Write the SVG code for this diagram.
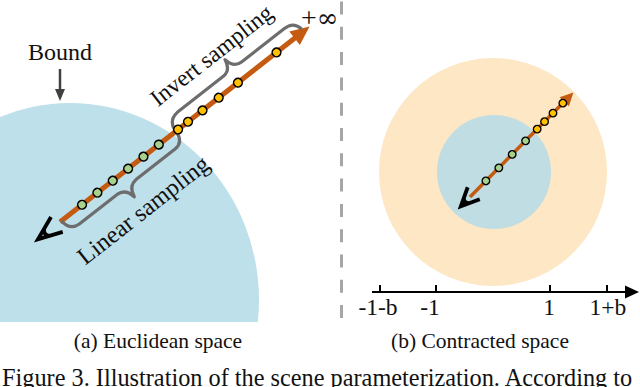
<svg xmlns="http://www.w3.org/2000/svg" width="640" height="387" viewBox="0 0 640 387">
<style>
.t{font-family:"Liberation Serif","Times New Roman",serif;fill:#111}
.ray{stroke:#c55a11;fill:none}
.head{fill:#c55a11}
.g{fill:#a9d18e;stroke:#000}
.y{fill:#ffc000;stroke:#000}
.brace{fill:none;stroke:#6d6d6d;stroke-width:3.2;stroke-linecap:round;stroke-linejoin:round}
.eye{fill:none;stroke:#000;stroke-width:3.8;stroke-linejoin:miter}
</style>
<defs>
<clipPath id="clipL"><rect x="0" y="0" width="338" height="322"/></clipPath>
</defs>
<rect width="640" height="387" fill="#fff"/>

<g id="euclidean-bound">
<ellipse cx="70" cy="300" rx="189" ry="197" fill="#bee0ea" clip-path="url(#clipL)"/>
</g>

<g id="bound-label">
<text class="t" x="60" y="60" font-size="24" text-anchor="middle">Bound</text>
<line x1="60" y1="69" x2="60" y2="90" stroke="#404040" stroke-width="2.5"/>
<polygon points="60,101 55,89 65,89" fill="#404040"/>
</g>

<g id="separator">
<line x1="341.5" y1="1.5" x2="341.5" y2="322" stroke="#a6a6a6" stroke-width="3" stroke-dasharray="13 12.3"/>
</g>

<g id="left-ray" transform="translate(60,222) rotate(-38.07)">
<g id="connectors-left">
<line class="ray" x1="0" y1="0" x2="300" y2="0" stroke-width="5"/>
<polygon class="head" points="317,0 298,-8.5 298,8.5"/>
<path class="brace" d="M2,1 Q3,13 14,13.5 L62,13.5 Q72,14 74,26 Q76,14 86,13.5 L136,13.5 Q146,13 147,2"/>
<path class="brace" d="M147,-1 Q148,-13 160,-14 L218,-14 Q228,-14 230,-26 Q232,-14 242,-14 L296,-14 Q307,-14 309,-4"/>
</g>
<g id="left-eye">
<path class="eye" d="M-4,-9.5 L-28,0 L-4,9.5 M-16.5,-4.6 Q-21.5,0 -16.5,4.6"/>
</g>
<g id="left-samples" stroke-width="1.6">
<circle class="g" cx="28" cy="0" r="4.3"/>
<circle class="g" cx="47.5" cy="0" r="4.3"/>
<circle class="g" cx="67" cy="0" r="4.3"/>
<circle class="g" cx="86.5" cy="0" r="4.3"/>
<circle class="g" cx="106" cy="0" r="4.3"/>
<circle class="g" cx="125.5" cy="0" r="4.3"/>
<circle class="y" cx="150" cy="0" r="4.3"/>
<circle class="y" cx="162.6" cy="0" r="4.3"/>
<circle class="y" cx="181" cy="0" r="4.3"/>
<circle class="y" cx="201.6" cy="0" r="4.3"/>
<circle class="y" cx="226" cy="0" r="4.3"/>
<circle class="y" cx="275" cy="0" r="4.3"/>
</g>
<text class="t" x="73" y="50" font-size="24.5" text-anchor="middle">Linear sampling</text>
<text class="t" x="222" y="-30" font-size="23.5" text-anchor="middle">Invert sampling</text>
</g>

<g id="infinity-label">
<text x="301" y="27"><tspan class="t" font-size="28">+</tspan><tspan font-family="'DejaVu Serif',serif" font-size="26" fill="#111">∞</tspan></text>
</g>

<g id="caption-a">
<text class="t" x="158" y="348" font-size="21.5" text-anchor="middle">(a) Euclidean space</text>
</g>

<g id="contracted-outer">
<circle cx="493" cy="172" r="114" fill="#fde7c5"/>
</g>
<g id="contracted-inner">
<circle cx="494" cy="172" r="57" fill="#bfdde2"/>
</g>

<g id="right-ray" transform="translate(470,197) rotate(-45.3)">
<g id="connectors-right">
<line class="ray" x1="0" y1="0" x2="136" y2="0" stroke-width="3.5"/>
<polygon class="head" points="147,0 134,-6.5 134,6.5"/>
</g>
<g id="right-eye">
<path class="eye" d="M5.3,-8.5 L-13,0 L5.3,8.5 M-4.8,-3.9 Q-8.8,0 -4.8,3.9"/>
</g>
<g id="right-samples" stroke-width="1.5">
<circle class="g" cx="22.6" cy="0" r="3.7"/>
<circle class="g" cx="41" cy="0" r="3.7"/>
<circle class="g" cx="60" cy="0" r="3.7"/>
<circle class="g" cx="79" cy="0" r="3.7"/>
<circle class="y" cx="95.5" cy="0" r="3.7"/>
<circle class="y" cx="106" cy="0" r="3.7"/>
<circle class="y" cx="118" cy="0" r="3.7"/>
<circle class="y" cx="132" cy="0" r="3.7"/>
</g>
</g>

<g id="axis">
<line x1="372" y1="292" x2="628" y2="292" stroke="#000" stroke-width="2"/>
<polygon points="639,292 625,285.5 625,298.5" fill="#000"/>
<g stroke="#000" stroke-width="2">
<line x1="380" y1="285" x2="380" y2="292"/>
<line x1="436" y1="285" x2="436" y2="292"/>
<line x1="550" y1="285" x2="550" y2="292"/>
<line x1="607" y1="285" x2="607" y2="292"/>
</g>
<text class="t" x="378" y="315" font-size="23.5" text-anchor="middle">-1-b</text>
<text class="t" x="430" y="315" font-size="23.5" text-anchor="middle">-1</text>
<text class="t" x="549" y="315" font-size="23.5" text-anchor="middle">1</text>
<text class="t" x="608" y="315" font-size="23.5" text-anchor="middle">1+b</text>
</g>

<g id="caption-b">
<text class="t" x="480" y="348" font-size="21.5" text-anchor="middle">(b) Contracted space</text>
</g>

<g id="figure-caption">
<text class="t" x="2" y="385.5" font-size="24.3">Figure 3. Illustration of the scene parameterization. According to</text>
</g>
</svg>
